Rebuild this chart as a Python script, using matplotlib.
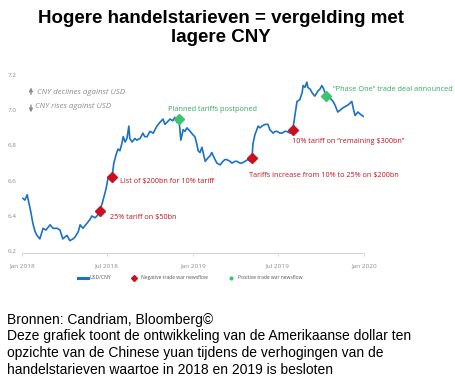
import numpy as np
import pandas as pd
import matplotlib
matplotlib.use("Agg")
import matplotlib.pyplot as plt
from matplotlib.lines import Line2D

# USD/CNY (days since 1 Jan 2018, rate)
days = [2, 6, 11, 15, 19, 23, 28, 32, 38, 45, 51, 60, 66, 75, 81, 87, 96, 102,
        109, 113, 120, 124, 130, 139, 145, 149, 156, 160, 166, 171, 175, 179,
        184, 188, 192, 196, 201, 205, 209, 213, 216, 220, 224, 228, 230, 235,
        241, 245, 252, 258, 262, 267, 273, 280, 284, 288, 294, 301, 305, 309,
        316, 322, 326, 331, 335, 339, 344, 348, 352, 359, 365, 369, 373, 376,
        380, 384, 391, 397, 401, 405, 412, 416, 423, 429, 433, 437, 444, 448,
        455, 459, 465, 469, 476, 482, 487, 491, 493, 497, 504, 508, 512, 519,
        525, 529, 536, 540, 544, 551, 555, 561, 565, 572, 578, 583, 587, 593,
        598, 600, 604, 608, 610, 615, 619, 625, 632, 636, 640, 644, 649, 653,
        657, 664, 668, 674, 679, 683, 689, 696, 700, 704, 708, 711, 717, 721,
        726, 732]
usdcny = [6.50, 6.49, 6.52, 6.47, 6.42, 6.36, 6.31, 6.29, 6.27, 6.33, 6.32, 6.35,
          6.33, 6.33, 6.32, 6.27, 6.29, 6.26, 6.27, 6.28, 6.31, 6.35, 6.33, 6.36,
          6.38, 6.40, 6.39, 6.40, 6.43, 6.47, 6.51, 6.55, 6.62, 6.63, 6.62, 6.70,
          6.75, 6.78, 6.77, 6.81, 6.85, 6.82, 6.84, 6.91, 6.84, 6.82, 6.84, 6.83,
          6.84, 6.87, 6.85, 6.85, 6.88, 6.87, 6.89, 6.91, 6.93, 6.95, 6.92, 6.93,
          6.95, 6.94, 6.96, 6.93, 6.95, 6.83, 6.89, 6.88, 6.90, 6.88, 6.86, 6.85,
          6.81, 6.77, 6.76, 6.79, 6.71, 6.73, 6.74, 6.76, 6.72, 6.70, 6.69, 6.71,
          6.72, 6.72, 6.71, 6.70, 6.71, 6.71, 6.70, 6.70, 6.71, 6.72, 6.71, 6.73,
          6.81, 6.86, 6.91, 6.90, 6.91, 6.92, 6.92, 6.89, 6.87, 6.88, 6.88, 6.87,
          6.87, 6.88, 6.88, 6.87, 6.89, 6.98, 7.05, 7.06, 7.10, 7.14, 7.13, 7.16,
          7.13, 7.12, 7.10, 7.08, 7.11, 7.12, 7.14, 7.12, 7.08, 7.07, 7.07, 7.05,
          7.03, 6.99, 7.00, 7.01, 7.02, 7.03, 7.04, 7.05, 7.00, 6.97, 6.99, 6.98,
          6.97, 6.96]

# trade war events
neg_days = [166, 192, 491, 578]
neg_vals = [6.43, 6.62, 6.73, 6.89]
neg_labels = ["25% tariff on $50bn", "List of $200bn for 10% tariff",
              "Tariffs increase from 10% to 25% on $200bn",
              "10% tariff on \u201cremaining $300bn\u201d"]
neg_label_pos = [(188, 6.394), (209, 6.598), (484, 6.627), (576, 6.82)]

pos_days = [335, 649]
pos_vals = [6.95, 7.08]
pos_labels = ["Planned tariffs postponed", "\u201cPhase One\u201d trade deal announced"]
pos_label_pos = [(312, 7.007), (664, 7.115)]

start = pd.Timestamp("2018-01-01")
def to_date(d):
    return start + pd.to_timedelta(np.asarray(d), unit="D")

blue = "#1b72c2"
red = "#c8101e"
green = "#3cc46c"
grey = "#8c8c8c"
font = "Open Sans"

fig = plt.figure(figsize=(4.55, 3.86), dpi=100)
ax = fig.add_axes([0.0484, 0.3446, 0.7516, 0.4611])

ax.plot(to_date(days), usdcny, color=blue, lw=1.2, zorder=2)
ax.plot(to_date(neg_days), neg_vals, "D", color=red, ms=5, zorder=3)
ax.plot(to_date(pos_days), pos_vals, "D", color=green, ms=5, zorder=3)

for (d, v), t in zip(neg_label_pos, neg_labels):
    ax.text(to_date(d), v, t, color=red, fontsize=5.2, family=font,
            va="center", ha="left", clip_on=False)
for (d, v), t in zip(pos_label_pos, pos_labels):
    ax.text(to_date(d), v, t, color="#2fae5f", fontsize=5.3, family=font,
            va="center", ha="left", clip_on=False)

# direction hints
ax.annotate("", xy=(to_date(19), 7.145), xytext=(to_date(19), 7.075),
            arrowprops=dict(arrowstyle="-|>", color=grey, lw=1.0,
                            mutation_scale=5))
ax.annotate("", xy=(to_date(19), 6.972), xytext=(to_date(19), 7.045),
            arrowprops=dict(arrowstyle="-|>", color=grey, lw=1.0,
                            mutation_scale=5))
ax.text(to_date(32), 7.098, "CNY declines against USD", color=grey,
        fontsize=5.7, style="italic", family=font, va="center")
ax.text(to_date(28), 7.024, "CNY rises against USD", color=grey,
        fontsize=5.7, style="italic", family=font, va="center")

ax.set_xlim(start, pd.Timestamp("2020-01-01"))
ax.set_ylim(6.19, 7.2)
ax.set_yticks([6.2, 6.4, 6.6, 6.8, 7.0, 7.2])
ax.set_yticklabels(["6.2", "6.4", "6.6", "6.8", "7.0", "7.2"])
xt = pd.to_datetime(["2018-01-01", "2018-07-01", "2019-01-01", "2019-07-01", "2020-01-01"])
ax.set_xticks(xt)
ax.set_xticklabels(["Jan 2018", "Jul 2018", "Jan 2019", "Jul 2019", "Jan 2020"])
for s in ["top", "right", "left"]:
    ax.spines[s].set_visible(False)
ax.spines["bottom"].set_color("#d4d4d4")
ax.spines["bottom"].set_linewidth(0.7)
ax.tick_params(axis="y", length=0, pad=4, labelsize=4.6, labelcolor=grey)
ax.tick_params(axis="x", length=2.5, width=0.6, color="#d4d4d4", pad=5,
               labelsize=4.6, labelcolor=grey)
for lab in ax.get_xticklabels() + ax.get_yticklabels():
    lab.set_family(font)

handles = [Line2D([], [], color=blue, lw=2.2),
           Line2D([], [], marker="D", color=red, ls="none", ms=3),
           Line2D([], [], marker="o", color=green, ls="none", ms=2)]
leg = fig.legend(handles, ["USD/CNY", "Negative trade war newsflow",
                           "Positive trade war newsflow"],
                 loc="center left", bbox_to_anchor=(0.167, 0.28), ncol=3,
                 frameon=False, prop={"family": font, "size": 3.6},
                 borderaxespad=0, handlelength=2.0, handletextpad=0.4,
                 columnspacing=3.5)
for t in leg.get_texts():
    t.set_color("#555555")

fig.text(0.486, 0.973, "Hogere handelstarieven = vergelding met\nlagere CNY",
         ha="center", va="top", fontsize=13.5, fontweight="bold",
         family="Liberation Sans", linespacing=1.15)

fig.text(0.015, 0.19,
         "Bronnen: Candriam, Bloomberg\u00a9\n"
         "Deze grafiek toont de ontwikkeling van de Amerikaanse dollar ten\n"
         "opzichte van de Chinese yuan tijdens de verhogingen van de\n"
         "handelstarieven waartoe in 2018 en 2019 is besloten",
         ha="left", va="top", fontsize=10, family="Liberation Sans",
         linespacing=1.25)

fig.savefig("out.png", dpi=100)
